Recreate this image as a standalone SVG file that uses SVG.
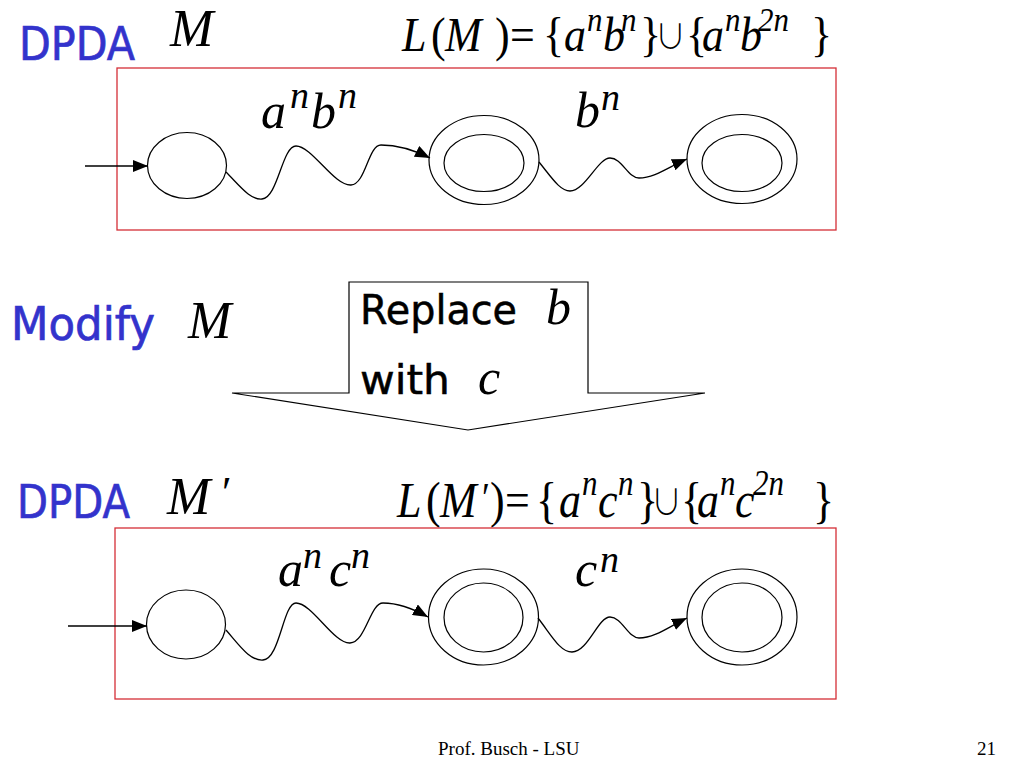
<svg xmlns="http://www.w3.org/2000/svg" width="1024" height="768" viewBox="0 0 1024 768">
<style>
.frame{fill:none;stroke:#d42f37;stroke-width:1.3}
.st{fill:none;stroke:#000;stroke-width:1.2}
.wave{fill:none;stroke:#000;stroke-width:1.3}
.blue{font-family:"DejaVu Sans","Liberation Sans",sans-serif;fill:#3333cc;stroke:#3333cc;stroke-width:0.7}
.blk{font-family:"DejaVu Sans","Liberation Sans",sans-serif;fill:#000;stroke:#000;stroke-width:0.5}
.mi{font-family:"Liberation Serif","Times New Roman",serif;font-style:italic;fill:#000}
.r{font-family:"Liberation Serif","Times New Roman",serif;font-style:normal}
.sup{font-size:31px}
.cup{font-family:"Noto Sans CJK JP","DejaVu Serif",serif;font-style:normal;font-weight:300;font-size:31px}
.foot{font-family:"Liberation Serif","Times New Roman",serif;font-size:19px;fill:#000}
</style>
<defs>
<marker id="ah" markerUnits="userSpaceOnUse" markerWidth="15" markerHeight="12" refX="15" refY="6" orient="auto">
<path d="M0,0 L15,6 L0,12 z" fill="#000"/>
</marker>
</defs>
<rect width="1024" height="768" fill="#fff"/>

<g id="title-top">
<text class="blue" x="19" y="60" font-size="46" textLength="116" lengthAdjust="spacingAndGlyphs">DPDA</text>
<text class="mi" x="170" y="46" font-size="52">M</text>
</g>
<g id="formula-top" transform="matrix(1,0,0,1.1,0,-5.1)">
<text class="mi" font-size="44"><tspan x="402" y="51">L</tspan><tspan class="r" x="431" y="51">(</tspan><tspan x="445" y="51">M</tspan><tspan class="r" x="495" y="51">)</tspan><tspan class="r" x="510" y="51">=</tspan><tspan class="r" x="543" y="51">{</tspan><tspan x="564" y="51">a</tspan><tspan class="sup" x="587" y="33">n</tspan><tspan x="603" y="51">b</tspan><tspan class="sup" x="621" y="33">n</tspan><tspan class="r" x="640" y="51">}</tspan><tspan class="cup" x="655" y="49">∪</tspan><tspan class="r" x="686" y="51">{</tspan><tspan x="702" y="51">a</tspan><tspan class="sup" x="725" y="33">n</tspan><tspan x="740" y="51">b</tspan><tspan class="sup" x="758" y="33">2n</tspan><tspan class="r" x="811" y="51">}</tspan></text>
</g>
<rect id="machine-top" class="frame" x="117" y="68" width="719" height="162"/>

<g id="q0-top"><ellipse class="st" cx="187" cy="165.5" rx="39.5" ry="33"/></g>
<g id="q1-top"><ellipse class="st" cx="484" cy="160" rx="55" ry="44.5"/><ellipse class="st" cx="484" cy="163" rx="40" ry="28.5"/></g>
<g id="q2-top"><ellipse class="st" cx="742" cy="159" rx="55" ry="44.5"/><ellipse class="st" cx="742" cy="163" rx="40" ry="28.5"/></g>

<g id="labels-top">
<text class="mi" font-size="50"><tspan x="261" y="128">a</tspan><tspan x="290" y="108" font-size="38">n</tspan><tspan x="311" y="128">b</tspan><tspan x="338" y="108" font-size="38">n</tspan></text>
<text class="mi" font-size="50"><tspan x="575" y="127">b</tspan><tspan x="601" y="110" font-size="38">n</tspan></text>
</g>

<g id="connectors-top">
<line class="wave" x1="85" y1="166" x2="148" y2="166" marker-end="url(#ah)"/>
<path class="wave" d="M226,172 C240,186 250,200 262,199 C278,198 282,146 296,146 C312,146 334,186 351,185 C366,184 368,145 381,145 C396,145 414,150 430,158" marker-end="url(#ah)"/>
<path class="wave" d="M539,162 C552,178 560,191 570,191 C585,191 598,158 610,158 C622,158 628,178 639,178 C655,178 670,166 687,159" marker-end="url(#ah)"/>
</g>

<g id="modify">
<text class="blue" x="11" y="340" font-size="46" textLength="144" lengthAdjust="spacingAndGlyphs">Modify</text>
<text class="mi" x="188" y="338" font-size="52">M</text>
</g>
<g id="replace-arrow">
<polygon points="349,282 588,282 588,393 705,393 468,430 232,393 349,393" fill="#fff" stroke="#000" stroke-width="1.2"/>
<text class="blk" x="360" y="324" font-size="40" textLength="157" lengthAdjust="spacingAndGlyphs">Replace</text>
<text class="mi" x="546" y="324" font-size="50">b</text>
<text class="blk" x="360" y="394" font-size="40" textLength="90" lengthAdjust="spacingAndGlyphs">with</text>
<text class="mi" x="478" y="394" font-size="50">c</text>
</g>

<g id="title-bottom">
<text class="blue" x="17" y="518" font-size="46" textLength="113" lengthAdjust="spacingAndGlyphs">DPDA</text>
<text class="mi" font-size="52"><tspan x="167" y="514">M</tspan><tspan class="r" x="222" y="507" font-size="44">′</tspan></text>
</g>
<g id="formula-bottom" transform="matrix(1,0,0,1.15,0,-77.55)">
<text class="mi" font-size="44"><tspan x="397" y="517">L</tspan><tspan class="r" x="426" y="517">(</tspan><tspan x="440" y="517">M</tspan><tspan class="r" x="482" y="513" font-size="36">′</tspan><tspan class="r" x="490" y="517">)</tspan><tspan class="r" x="505" y="517">=</tspan><tspan class="r" x="536" y="517">{</tspan><tspan x="559" y="517">a</tspan><tspan class="sup" x="582" y="498">n</tspan><tspan x="598" y="517">c</tspan><tspan class="sup" x="618" y="498">n</tspan><tspan class="r" x="637" y="517">}</tspan><tspan class="cup" x="651" y="515">∪</tspan><tspan class="r" x="681" y="517">{</tspan><tspan x="697" y="517">a</tspan><tspan class="sup" x="720" y="498">n</tspan><tspan x="735" y="517">c</tspan><tspan class="sup" x="753" y="498">2n</tspan><tspan class="r" x="813" y="517">}</tspan></text>
</g>
<rect id="machine-bottom" class="frame" x="115" y="528" width="721" height="171"/>

<g id="q0-bottom"><ellipse class="st" cx="186" cy="624.5" rx="39.5" ry="34.5"/></g>
<g id="q1-bottom"><ellipse class="st" cx="483.5" cy="617" rx="55" ry="48"/><ellipse class="st" cx="483.5" cy="617.5" rx="39.5" ry="34.5"/></g>
<g id="q2-bottom"><ellipse class="st" cx="742" cy="617" rx="55" ry="48"/><ellipse class="st" cx="742" cy="617.5" rx="40" ry="34.5"/></g>

<g id="labels-bottom">
<text class="mi" font-size="50"><tspan x="278" y="586">a</tspan><tspan x="303" y="568" font-size="38">n</tspan><tspan x="329" y="586">c</tspan><tspan x="351" y="568" font-size="38">n</tspan></text>
<text class="mi" font-size="50"><tspan x="575" y="586">c</tspan><tspan x="600" y="572" font-size="38">n</tspan></text>
</g>

<g id="connectors-bottom">
<line class="wave" x1="68" y1="626" x2="147" y2="626" marker-end="url(#ah)"/>
<path class="wave" d="M226,630 C240,646 250,661 263,660 C280,659 283,603 296,603 C312,603 334,644 350,643 C366,642 370,603 383,603 C398,603 412,608 428,617" marker-end="url(#ah)"/>
<path class="wave" d="M538,618 C552,636 560,652 572,652 C588,652 598,617 610,617 C622,617 628,638 639,638 C655,638 670,626 687,618" marker-end="url(#ah)"/>
</g>

<g id="footer">
<text class="foot" x="438" y="755">Prof. Busch - LSU</text>
<text class="foot" x="977" y="755">21</text>
</g>
</svg>
